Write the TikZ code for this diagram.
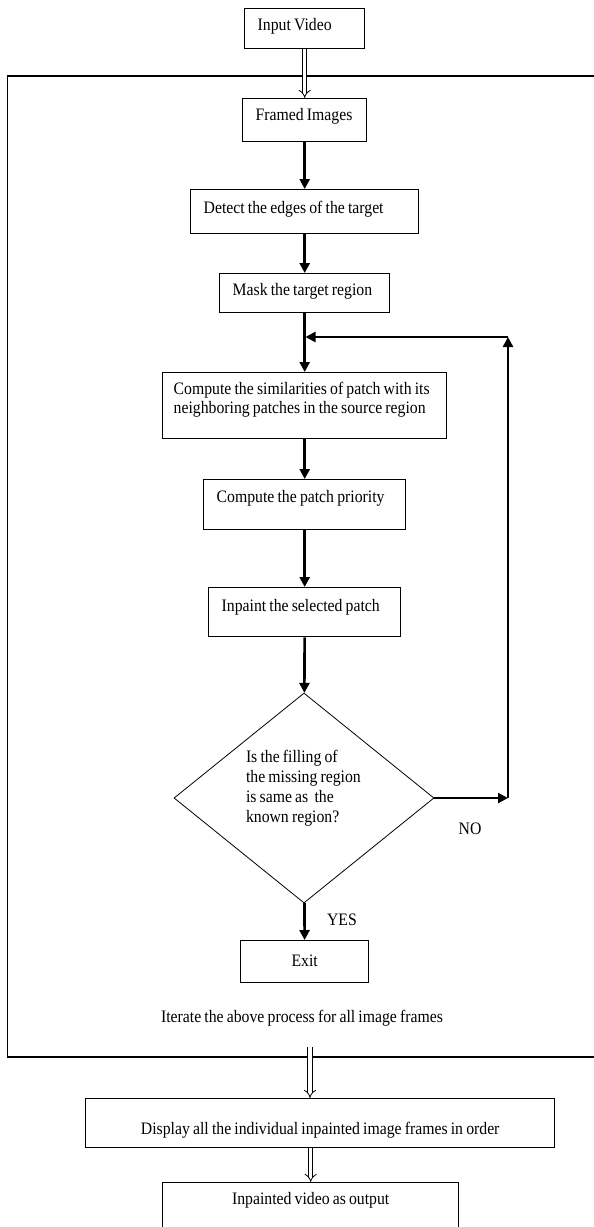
\documentclass[tikz,border=0pt]{standalone}
\usepackage{fontspec}
\setmainfont{Liberation Serif}[FakeStretch=0.9,WordSpace=0.8]
\usetikzlibrary{arrows.meta,shapes.geometric}

\begin{document}
\begin{tikzpicture}[x=1pt,y=-1pt,font=\fontsize{17.5}{20}\selectfont]
  \tikzstyle{stage}=[draw, line width=1.4pt, inner xsep=13pt, inner ysep=0pt, align=flush left, anchor=north west]
  \tikzstyle{flow}=[line width=2.6pt, -{Triangle[length=10pt,width=10pt]}]
  \tikzstyle{hollow}=[double, double distance=3.5pt, line width=0.8pt, -{Implies}]
  \tikzstyle{verdict}=[draw, diamond, line width=0.8pt, shape aspect=1.24, minimum width=260pt, minimum height=210pt, inner sep=0pt, align=flush left, text width=116pt]
  \tikzstyle{tag}=[inner sep=0pt]

  \useasboundingbox (0,0) rectangle (594,1227);
  \clip (0,0) rectangle (594,1227);

  \draw[line width=1.4pt] (7.6,76) rectangle (640,1057);

  \node[stage, text width=94pt, text height=22pt, text depth=18pt] (input) at (244,8) {\mbox{Input Video}};
  \node[stage, text width=98pt, text height=22pt, text depth=21pt] (framed) at (242,98) {\mbox{Framed Images}};
  \node[stage, text width=202pt, text height=24pt, text depth=20pt] (detect) at (190,189) {\mbox{Detect the edges of the target}};
  \node[stage, text width=144pt, text height=22pt, text depth=17pt] (mask) at (219,273) {\mbox{Mask the target region}};
  \node[stage, inner xsep=11pt, text width=262pt, text height=22pt, text depth=44pt, font=\fontsize{17.5}{19}\selectfont] (similar) at (162,372)
    {\mbox{Compute the similarities of patch with its}\\\mbox{neighboring patches in the source region}};
  \node[stage, text width=176pt, text height=23pt, text depth=27pt] (priority) at (203,479) {\mbox{Compute the patch priority}};
  \node[stage, text width=166pt, text height=24pt, text depth=25pt] (inpaint) at (208,587) {\mbox{Inpaint the selected patch}};
  \node[verdict, text height=12pt, text depth=84pt] (filled) at (304,798)
    {\mbox{Is the filling of}\\\mbox{the missing region}\\\mbox{is same as\ \ the}\\\mbox{known region?}};
  \node[stage, align=flush center, text width=102pt, text height=26pt, text depth=16pt] (exit) at (240,940) {Exit};
  \node[tag] (iterate) at (302,1018) {Iterate the above process for all image frames};
  \node[stage, align=flush center, text width=443pt, text height=36pt, text depth=13pt] (display) at (85,1098) {\mbox{Display all the individual inpainted image frames in order}};
  \node[stage, align=flush center, text width=270pt, text height=22pt, text depth=39pt] (output) at (162,1182) {\mbox{Inpainted video as output}};

  \node[tag] (no) at (470,829) {NO};
  \node[tag] (yes) at (342,920) {YES};

  \coordinate (noc) at (508,798);
  \coordinate (loopc) at (508,337);
  \coordinate (join) at (304,337);
  \coordinate (fbot) at (310,1047);

  \draw[hollow] (input) -- (framed);
  \draw[flow] (framed) -- (detect);
  \draw[flow] (detect) -- (mask);
  \draw[flow] (mask) -- (similar.north -| mask);
  \draw[flow] (similar.south -| priority) -- (priority);
  \draw[flow] (priority) -- (inpaint);
  \draw[flow] (inpaint) -- (filled);
  \draw[flow] (filled) -- (exit);
  \draw[flow] (filled.east) -- (noc);
  \draw[flow] (noc) -- (loopc);
  \draw[flow, shorten >=1.5pt] (loopc) -- (join);
  \draw[hollow] (fbot) -- (fbot |- display.north);
  \draw[hollow] (display.south -| output) -- (output);
\end{tikzpicture}
\end{document}
